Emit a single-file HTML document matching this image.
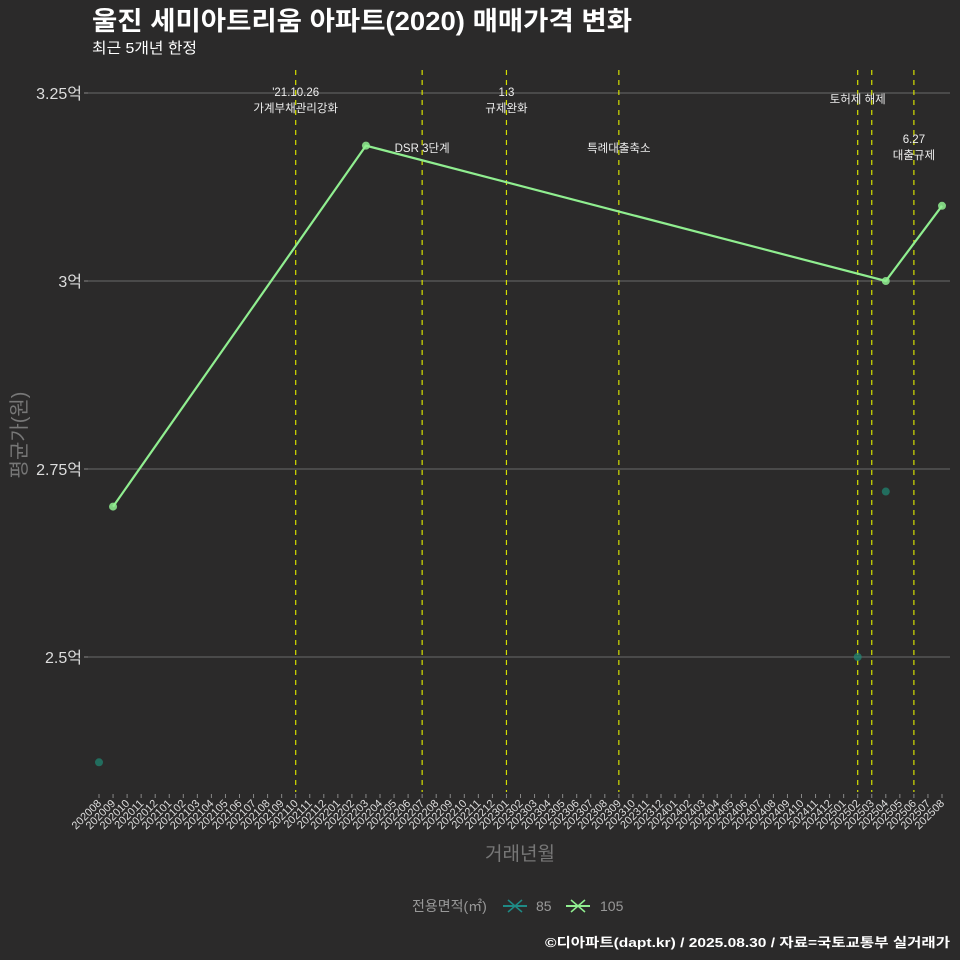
<!DOCTYPE html>
<html><head><meta charset="utf-8"><style>
body{margin:0;background:#2b2a2a;}
svg{display:block;font-family:"Liberation Sans","Noto Sans CJK KR",sans-serif;}
</style></head><body>
<svg id="chart" width="960" height="960" viewBox="0 0 960 960">
<rect x="0" y="0" width="960" height="960" fill="#2b2a2a"/>
<text x="92" y="30" fill="#ffffff" font-size="26" font-weight="bold" textLength="540" lengthAdjust="spacingAndGlyphs">울진 세미아트리움 아파트(2020) 매매가격 변화</text>
<text x="92" y="53" fill="#ffffff" font-size="15" textLength="105" lengthAdjust="spacingAndGlyphs">최근 5개년 한정</text>
<g id="grid"></g><g id="vlines"></g><g id="series"></g><g id="xaxis"></g><g id="yaxis"></g>
<text transform="translate(26,435) rotate(-90)" text-anchor="middle" fill="#777" font-size="20">평균가(원)</text>
<text x="520" y="860" text-anchor="middle" fill="#777" font-size="19">거래년월</text>
<g>
<text x="412" y="911" fill="#999" font-size="14">전용면적(㎡)</text>
<g>
<line x1="503" y1="906" x2="527" y2="906" stroke="#1f8a85" stroke-width="2"/>
<path d="M508 900 L522 912 M522 900 L508 912" stroke="#1f8a85" stroke-width="1.5"/>
<text x="536" y="911" fill="#999" font-size="14">85</text></g>
<g>
<line x1="566" y1="906" x2="590" y2="906" stroke="#90ee90" stroke-width="2"/>
<path d="M571 900 L585 912 M585 900 L571 912" stroke="#90ee90" stroke-width="1.5"/>
<text x="600" y="911" fill="#999" font-size="14">105</text></g>
</g>
<text x="950" y="947" text-anchor="end" fill="#ffffff" font-size="13" font-weight="bold" textLength="405" lengthAdjust="spacingAndGlyphs">©디아파트(dapt.kr) / 2025.08.30 / 자료=국토교통부 실거래가</text>
</svg>
<script>
const months=[];for(let y=2020;y<=2025;y++)for(let m=1;m<=12;m++){const k=y*100+m;if(k>=202008&&k<=202508)months.push(String(k));}
const yTicks=[2.5,2.75,3.0,3.25];
const yTickLabels=["2.5억","2.75억","3억","3.25억"];
const s85Months=["202008","202502","202504"];
const s85Values=[2.36,2.50,2.72];
const s105Months=["202009","202203","202504","202508"];
const s105Values=[2.70,3.18,3.00,3.10];
const eventMonths=["202110","202207","202301","202309","202502","202503","202506"];
const eventLabels=[["'21.10.26","가계부채관리강화"],["DSR 3단계"],["1.3","규제완화"],["특례대출축소"],["토허제 해제"],[],["6.27","대출규제"]];
const NS="http://www.w3.org/2000/svg";
const X0=99,X1=942,Ytop=93,Ybot=657;
const xs=m=>X0+months.indexOf(m)*(X1-X0)/(months.length-1);
const ys=v=>Ybot-(v-2.5)/(3.25-2.5)*(Ybot-Ytop);
function mk(tag,attrs,parent){const e=document.createElementNS(NS,tag);for(const k in attrs)e.setAttribute(k,attrs[k]);parent.appendChild(e);return e;}
const grid=document.getElementById('grid'),ya=document.getElementById('yaxis'),xa=document.getElementById('xaxis'),vl=document.getElementById('vlines'),se=document.getElementById('series');
yTicks.forEach((t,i)=>{
 const l=mk('line',{x1:88,x2:950,y1:ys(t),y2:ys(t),stroke:'#6a6a6a','stroke-width':1},grid);
 
 
 const tk=mk('line',{x1:84,x2:88,y1:ys(t),y2:ys(t),stroke:'#888'},ya);
 
 
 const tx=mk('text',{x:82,y:ys(t)+6,'text-anchor':'end',fill:'#ddd','font-size':16},ya);
 tx.textContent=yTickLabels[i];
 
 
});
months.forEach(m=>{
 const x=xs(m);
 const tk=mk('line',{x1:x,x2:x,y1:794,y2:798,stroke:'#888'},xa);
 
 
 const tx=mk('text',{x:x+3,y:804,'text-anchor':'end',fill:'#ddd','font-size':11,transform:`rotate(-45 ${x+3} 804)`},xa);
 tx.textContent=m;
 
 
});
eventMonths.forEach((m,i)=>{
 const x=xs(m);
 const l=mk('line',{x1:x,x2:x,y1:70,y2:792,stroke:'#d4e000','stroke-width':1.2,'stroke-dasharray':'5,5'},vl);
 
 
 const lines=eventLabels[i];
 let y0=lines.length==1?152:96;
 if(i==4)y0=103;
 if(i==6)y0=143;
 lines.forEach((s,j)=>{
  const t=mk('text',{x:x,y:y0+j*16,'text-anchor':'middle',fill:'#eee','font-size':11.5},vl);
  t.textContent=s;
  
  
 });
});
function drawSeries(ms,vs,color,op,line,name){
 if(line){const p=mk('polyline',{points:ms.map((m,i)=>xs(m)+','+ys(vs[i])).join(' '),fill:'none',stroke:color,'stroke-width':2.2},se);
 
 }
 ms.forEach((m,i)=>{const c=mk('circle',{cx:xs(m),cy:ys(vs[i]),r:4,fill:color,'fill-opacity':op},se);
 
 });
}
drawSeries(s85Months,s85Values,'#1f8a75',0.7,false,'series-85');
drawSeries(s105Months,s105Values,'#90ee90',0.85,true,'series-105');
</script>
</body></html>
